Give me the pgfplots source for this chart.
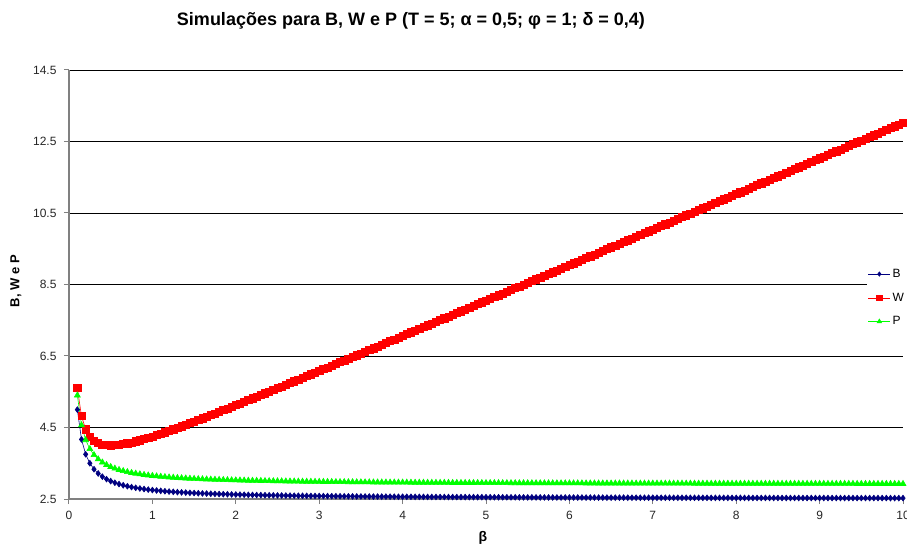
\documentclass[border=0pt]{standalone}
\usepackage{pgfplots}
\usepackage{pgfplotstable}
\pgfplotsset{compat=1.18}
\usepackage{fontspec}
\setmainfont{Liberation Sans}

\definecolor{bnavy}{RGB}{0,0,128}
\definecolor{wred}{RGB}{255,0,0}
\definecolor{pgreen}{RGB}{0,255,0}
\definecolor{axgray}{RGB}{128,128,128}

% beta, B, W, P
\pgfplotstableread{
x B W P
0.10 5.000 5.600 5.400
0.15 4.167 4.817 4.567
0.20 3.750 4.450 4.150
0.25 3.500 4.250 3.900
0.30 3.333 4.133 3.733
0.35 3.214 4.064 3.614
0.40 3.125 4.025 3.525
0.45 3.056 4.006 3.456
0.50 3.000 4.000 3.400
0.55 2.955 4.005 3.355
0.60 2.917 4.017 3.317
0.65 2.885 4.035 3.285
0.70 2.857 4.057 3.257
0.75 2.833 4.083 3.233
0.80 2.813 4.113 3.213
0.85 2.794 4.144 3.194
0.90 2.778 4.178 3.178
0.95 2.763 4.213 3.163
1.00 2.750 4.250 3.150
1.05 2.738 4.288 3.138
1.10 2.727 4.327 3.127
1.15 2.717 4.367 3.117
1.20 2.708 4.408 3.108
1.25 2.700 4.450 3.100
1.30 2.692 4.492 3.092
1.35 2.685 4.535 3.085
1.40 2.679 4.579 3.079
1.45 2.672 4.622 3.072
1.50 2.667 4.667 3.067
1.55 2.661 4.711 3.061
1.60 2.656 4.756 3.056
1.65 2.652 4.802 3.052
1.70 2.647 4.847 3.047
1.75 2.643 4.893 3.043
1.80 2.639 4.939 3.039
1.85 2.635 4.985 3.035
1.90 2.632 5.032 3.032
1.95 2.628 5.078 3.028
2.00 2.625 5.125 3.025
2.05 2.622 5.172 3.022
2.10 2.619 5.219 3.019
2.15 2.616 5.266 3.016
2.20 2.614 5.314 3.014
2.25 2.611 5.361 3.011
2.30 2.609 5.409 3.009
2.35 2.606 5.456 3.006
2.40 2.604 5.504 3.004
2.45 2.602 5.552 3.002
2.50 2.600 5.600 3.000
2.55 2.598 5.648 2.998
2.60 2.596 5.696 2.996
2.65 2.594 5.744 2.994
2.70 2.593 5.793 2.993
2.75 2.591 5.841 2.991
2.80 2.589 5.889 2.989
2.85 2.588 5.938 2.988
2.90 2.586 5.986 2.986
2.95 2.585 6.035 2.985
3.00 2.583 6.083 2.983
3.05 2.582 6.132 2.982
3.10 2.581 6.181 2.981
3.15 2.579 6.229 2.979
3.20 2.578 6.278 2.978
3.25 2.577 6.327 2.977
3.30 2.576 6.376 2.976
3.35 2.575 6.425 2.975
3.40 2.574 6.474 2.974
3.45 2.572 6.522 2.972
3.50 2.571 6.571 2.971
3.55 2.570 6.620 2.970
3.60 2.569 6.669 2.969
3.65 2.568 6.718 2.968
3.70 2.568 6.768 2.968
3.75 2.567 6.817 2.967
3.80 2.566 6.866 2.966
3.85 2.565 6.915 2.965
3.90 2.564 6.964 2.964
3.95 2.563 7.013 2.963
4.00 2.563 7.063 2.963
4.05 2.562 7.112 2.962
4.10 2.561 7.161 2.961
4.15 2.560 7.210 2.960
4.20 2.560 7.260 2.960
4.25 2.559 7.309 2.959
4.30 2.558 7.358 2.958
4.35 2.557 7.407 2.957
4.40 2.557 7.457 2.957
4.45 2.556 7.506 2.956
4.50 2.556 7.556 2.956
4.55 2.555 7.605 2.955
4.60 2.554 7.654 2.954
4.65 2.554 7.704 2.954
4.70 2.553 7.753 2.953
4.75 2.553 7.803 2.953
4.80 2.552 7.852 2.952
4.85 2.552 7.902 2.952
4.90 2.551 7.951 2.951
4.95 2.551 8.001 2.951
5.00 2.550 8.050 2.950
5.05 2.550 8.100 2.950
5.10 2.549 8.149 2.949
5.15 2.549 8.199 2.949
5.20 2.548 8.248 2.948
5.25 2.548 8.298 2.948
5.30 2.547 8.347 2.947
5.35 2.547 8.397 2.947
5.40 2.546 8.446 2.946
5.45 2.546 8.496 2.946
5.50 2.545 8.545 2.945
5.55 2.545 8.595 2.945
5.60 2.545 8.645 2.945
5.65 2.544 8.694 2.944
5.70 2.544 8.744 2.944
5.75 2.543 8.793 2.943
5.80 2.543 8.843 2.943
5.85 2.543 8.893 2.943
5.90 2.542 8.942 2.942
5.95 2.542 8.992 2.942
6.00 2.542 9.042 2.942
6.05 2.541 9.091 2.941
6.10 2.541 9.141 2.941
6.15 2.541 9.191 2.941
6.20 2.540 9.240 2.940
6.25 2.540 9.290 2.940
6.30 2.540 9.340 2.940
6.35 2.539 9.389 2.939
6.40 2.539 9.439 2.939
6.45 2.539 9.489 2.939
6.50 2.538 9.538 2.938
6.55 2.538 9.588 2.938
6.60 2.538 9.638 2.938
6.65 2.538 9.688 2.938
6.70 2.537 9.737 2.937
6.75 2.537 9.787 2.937
6.80 2.537 9.837 2.937
6.85 2.536 9.886 2.936
6.90 2.536 9.936 2.936
6.95 2.536 9.986 2.936
7.00 2.536 10.036 2.936
7.05 2.535 10.085 2.935
7.10 2.535 10.135 2.935
7.15 2.535 10.185 2.935
7.20 2.535 10.235 2.935
7.25 2.534 10.284 2.934
7.30 2.534 10.334 2.934
7.35 2.534 10.384 2.934
7.40 2.534 10.434 2.934
7.45 2.534 10.484 2.934
7.50 2.533 10.533 2.933
7.55 2.533 10.583 2.933
7.60 2.533 10.633 2.933
7.65 2.533 10.683 2.933
7.70 2.532 10.732 2.932
7.75 2.532 10.782 2.932
7.80 2.532 10.832 2.932
7.85 2.532 10.882 2.932
7.90 2.532 10.932 2.932
7.95 2.531 10.981 2.931
8.00 2.531 11.031 2.931
8.05 2.531 11.081 2.931
8.10 2.531 11.131 2.931
8.15 2.531 11.181 2.931
8.20 2.530 11.230 2.930
8.25 2.530 11.280 2.930
8.30 2.530 11.330 2.930
8.35 2.530 11.380 2.930
8.40 2.530 11.430 2.930
8.45 2.530 11.480 2.930
8.50 2.529 11.529 2.929
8.55 2.529 11.579 2.929
8.60 2.529 11.629 2.929
8.65 2.529 11.679 2.929
8.70 2.529 11.729 2.929
8.75 2.529 11.779 2.929
8.80 2.528 11.828 2.928
8.85 2.528 11.878 2.928
8.90 2.528 11.928 2.928
8.95 2.528 11.978 2.928
9.00 2.528 12.028 2.928
9.05 2.528 12.078 2.928
9.10 2.527 12.127 2.927
9.15 2.527 12.177 2.927
9.20 2.527 12.227 2.927
9.25 2.527 12.277 2.927
9.30 2.527 12.327 2.927
9.35 2.527 12.377 2.927
9.40 2.527 12.427 2.927
9.45 2.526 12.476 2.926
9.50 2.526 12.526 2.926
9.55 2.526 12.576 2.926
9.60 2.526 12.626 2.926
9.65 2.526 12.676 2.926
9.70 2.526 12.726 2.926
9.75 2.526 12.776 2.926
9.80 2.526 12.826 2.926
9.85 2.525 12.875 2.925
9.90 2.525 12.925 2.925
9.95 2.525 12.975 2.925
10.00 2.525 13.025 2.925
}\simdata

\begin{document}
\begin{tikzpicture}
\useasboundingbox (0pt,0pt) rectangle (907pt,546pt);
\node[font=\bfseries\fontsize{18}{21}\selectfont] at (411pt,525pt)
  {Simulações para B, W e P (T = 5; α = 0,5; φ = 1; δ = 0,4)};
\node[font=\bfseries\fontsize{13}{15}\selectfont, rotate=90] at (16pt,265pt) {B, W e P};
\node[font=\bfseries\fontsize{14}{16}\selectfont] at (483pt,8pt) {β};
\begin{axis}[
    at={(69pt,47pt)}, anchor=south west,
    scale only axis, width=834pt, height=429pt,
    xmin=0, xmax=10, ymin=2.5, ymax=14.5,
    xtick={0,1,...,10},
    ytick={2.5,4.5,6.5,8.5,10.5,12.5,14.5},
    yticklabels={2.5,4.5,6.5,8.5,10.5,12.5,14.5},
    axis x line*=bottom, axis y line*=left,
    axis line style={axgray, line width=1.3pt, -},
    tick align=outside, major tick length=5pt,
    tick style={axgray, line width=1pt},
    ymajorgrids, grid style={black, line width=0.8pt},
    /pgf/number format/assume math mode=true,
    ticklabel style={font=\fontsize{12}{14}\selectfont, text=black!85},
    xticklabel style={yshift=-4pt},
    yticklabel style={xshift=-4pt},
    legend style={at={(1.005,0.469)}, anchor=east, draw=none, fill=white,
        font=\fontsize{12}{14}\selectfont, row sep=10pt, inner sep=1pt,
        legend cell align=left},
    legend image code/.code={
        \draw[mark repeat=2, mark phase=2, mark options={scale=0.75}]
        plot coordinates {(0pt,0pt) (11pt,0pt) (22pt,0pt)};},
    clip=false,
]
\addplot[bnavy, line width=0.6pt, mark=diamond*, mark size=2.9pt,
    mark options={solid, fill=bnavy, draw=bnavy}] table[x=x, y=B] {\simdata};
\addlegendentry{B}
\addplot[wred, line width=0.6pt, mark=square*, mark size=3.6pt,
    mark options={solid, fill=wred, draw=wred}] table[x=x, y=W] {\simdata};
\addlegendentry{W}
\addplot[pgreen, line width=0.6pt, mark=triangle*, mark size=3.4pt,
    mark options={solid, fill=pgreen, draw=pgreen}] table[x=x, y=P] {\simdata};
\addlegendentry{P}
\end{axis}
\end{tikzpicture}
\end{document}
